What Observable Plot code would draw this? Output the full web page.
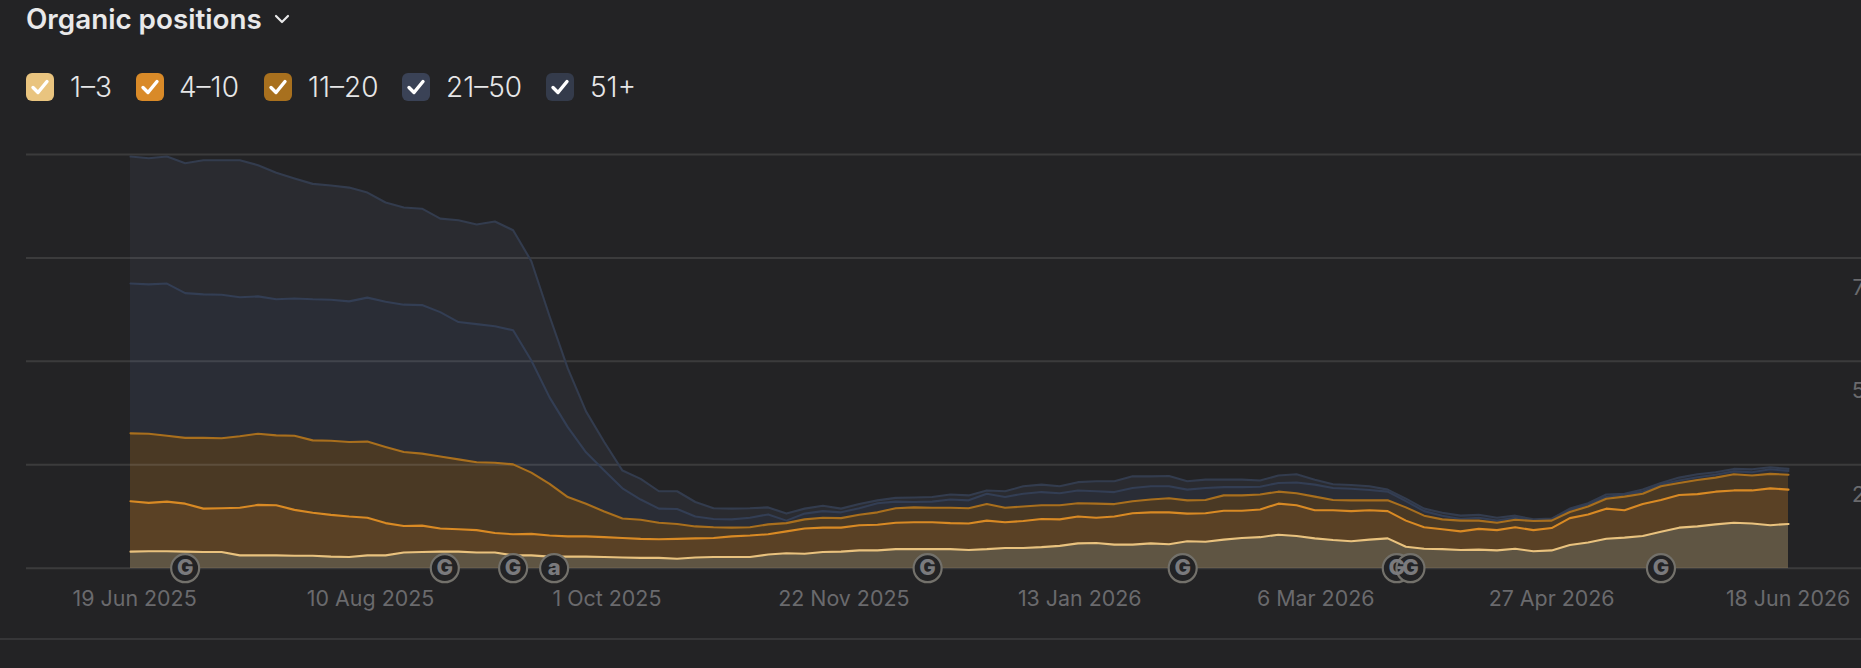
<!DOCTYPE html>
<html><head><meta charset="utf-8">
<script src="https://cdn.jsdelivr.net/npm/d3@7"></script>
<script src="https://cdn.jsdelivr.net/npm/@observablehq/plot@0.6"></script>
<style>
html,body{margin:0;padding:0;width:1861px;height:668px;overflow:hidden;background:#232325;font-family:Inter,sans-serif;}
#title{position:absolute;left:26px;top:3px;font-size:27.8px;font-weight:600;color:#e9e9ea;line-height:32px;white-space:nowrap;}
#chev{position:absolute;left:273px;top:13px;}
.box{position:absolute;top:73px;width:28px;height:28px;border-radius:6px;}
.box svg{position:absolute;left:3px;top:3px;}
.lab{position:absolute;top:70px;font-size:28px;line-height:34px;color:#e6e6e7;font-weight:300;white-space:nowrap;}
#rule{position:absolute;left:0;top:638px;width:1861px;height:2px;background:#363638;}
#chart{position:absolute;left:0;top:120px;}
</style></head><body>
<div id="title">Organic positions</div>
<svg id="chev" width="18" height="12" viewBox="0 0 18 12"><path d="M3 3 L9 9 L15 3" fill="none" stroke="#e9e9ea" stroke-width="2.2" stroke-linecap="round" stroke-linejoin="round"/></svg>
<div id="legend"></div>
<div id="chart"></div>
<div id="rule"></div>
<script>
const legendNames = ["1–3","4–10","11–20","21–50","51+"];
const legendColors = ["#e9c47f","#d98a28","#a8701e","#3a4256","#343b4b"];
const legendBoxX = [26,136,264,402,546];
const legendTextX = [70,179,308,446,590];

// cumulative organic positions, one reading every 4 days from 19 Jun 2025
const upTo3 = [4.0,4.1,4.1,4.0,3.9,3.9,3.1,3.1,3.1,3.0,3.0,2.8,2.7,3.1,3.1,3.8,3.9,4.0,4.0,3.8,3.8,3.1,3.1,2.8,2.8,2.8,2.7,2.6,2.5,2.5,2.3,2.6,2.7,2.7,2.7,3.3,3.6,3.5,3.9,4.0,4.3,4.3,4.6,4.6,4.6,4.6,4.4,4.6,4.9,4.9,5.1,5.4,6.0,6.1,5.7,5.7,6.0,5.8,6.5,6.4,6.9,7.3,7.5,8.1,7.8,7.2,6.8,6.5,6.9,7.2,5.2,4.7,4.6,4.4,4.5,4.3,4.7,4.1,4.3,5.6,6.2,7.1,7.4,7.8,8.8,9.8,10.1,10.6,11.0,10.8,10.4,10.7];
const upTo10 = [16.2,15.8,16.1,15.6,14.4,14.5,14.6,15.3,15.2,14.1,13.4,12.9,12.5,12.2,10.9,10.2,10.3,9.6,9.4,9.2,8.5,8.2,8.3,7.9,7.7,7.7,7.5,7.3,7.1,7.0,7.1,7.2,7.3,7.7,7.9,8.2,8.9,9.6,9.8,9.8,10.4,10.5,11.0,11.1,11.1,10.9,10.8,11.5,11.1,11.4,11.9,11.8,12.5,12.2,12.5,13.3,13.5,13.5,13.2,13.3,13.9,13.9,14.2,15.6,15.2,14.0,14.0,13.8,14.0,13.8,11.5,9.9,9.4,8.9,9.5,9.2,9.9,9.2,9.7,12.1,13.0,14.4,14.0,15.5,16.5,17.7,17.9,18.5,18.8,18.8,19.3,19.0];
const upTo20 = [32.6,32.5,32.0,31.5,31.5,31.4,31.9,32.5,32.1,32.0,30.9,30.8,30.5,30.6,29.3,28.1,27.7,27.0,26.3,25.6,25.5,25.1,23.1,20.4,17.2,15.6,13.7,12.0,11.7,11.0,10.7,10.1,9.9,9.8,9.9,10.6,10.9,11.8,12.2,12.1,12.9,13.5,14.5,14.7,14.6,14.6,14.5,15.5,14.6,14.9,15.2,15.2,15.7,15.6,15.5,16.2,16.6,16.9,16.4,16.5,17.6,17.6,17.8,18.5,18.1,17.3,16.5,16.4,16.4,16.4,14.7,12.7,11.8,11.5,11.5,11.0,11.7,11.4,11.5,13.6,14.9,16.8,17.3,18.0,19.8,20.6,21.3,21.9,22.7,22.4,22.8,22.6];
const upTo50 = [68.8,68.6,68.8,66.5,66.2,66.1,65.5,65.7,65.0,65.2,65.0,64.9,64.5,65.4,64.4,63.7,63.6,61.9,59.5,59.0,58.5,57.5,50.2,41.3,34.1,28.0,23.6,19.3,16.6,14.4,14.3,12.5,11.9,11.8,12.2,13.0,11.5,13.2,13.8,13.5,14.5,15.7,16.1,16.0,16.1,16.6,16.4,18.0,17.2,18.0,18.4,18.1,18.8,18.6,18.4,19.4,19.8,19.8,19.0,19.4,19.6,19.6,19.7,20.6,20.7,20.2,19.4,19.2,18.9,18.5,16.2,13.8,12.7,11.9,12.2,11.5,12.2,11.5,11.7,14.1,15.4,17.2,17.8,18.5,20.2,21.2,22.0,22.6,23.4,23.2,23.9,23.5];
const upToAll = [99.5,99.1,99.5,97.9,98.6,98.6,98.6,97.4,95.6,94.2,92.9,92.5,92.0,90.8,88.4,87.2,86.9,84.5,84.1,83.1,83.8,81.7,74.2,60.9,48.3,37.9,30.5,23.6,21.6,18.6,18.6,16.0,14.5,14.4,14.5,14.7,13.2,14.4,15.1,14.4,15.5,16.4,17.0,17.1,17.2,17.8,17.6,18.8,18.6,19.8,20.2,19.8,20.8,21.0,21.0,22.2,22.2,22.3,21.0,21.4,21.4,21.4,21.2,22.4,22.7,21.4,20.3,20.1,19.8,19.0,16.8,14.4,13.4,12.7,12.9,12.2,12.7,11.8,12.0,14.4,15.7,17.8,18.0,19.0,20.6,21.9,22.7,23.2,24.0,23.9,24.4,24.0];

const gridValues = [0,25,50,75,100];
const yTickValues = [25,50,75];
const yTickLabels = {25:"2",50:"5",75:"7"};
const xLabels = ["19 Jun 2025","10 Aug 2025","1 Oct 2025","22 Nov 2025","13 Jan 2026","6 Mar 2026","27 Apr 2026","18 Jun 2026"];
const xLabelDays = [0.9,52.7,104.6,156.6,208.4,260.2,312,363.9];
const eventDays = [12,69,84,93,175,231,278,281,336];
const eventMarks = ["G","G","G","a","G","G","G","G","G"];

const bandFills = ["#2a2b30","#2a2d36","#4a3924","#5a4125","#5f5543"];
const lineColors = ["#333c4e","#333e54","#a96f1d","#d98a24","#e9c27e"];
const boundaries = [upToAll,upTo50,upTo20,upTo10,upTo3];

const start = new Date(Date.UTC(2025,5,19));
const dayToDate = d => new Date(+start + d*864e5);
const dates = upTo3.map((_,i)=>dayToDate(i*4));

// legend
const legend = document.getElementById("legend");
legendNames.forEach((n,i)=>{
  const b=document.createElement("div");b.className="box";b.style.left=legendBoxX[i]+"px";b.style.background=legendColors[i];
  b.innerHTML='<svg width="22" height="22" viewBox="0 0 22 22"><path d="M4 11.5 L9 16.5 L18 5.5" fill="none" stroke="#fff" stroke-width="3.4" stroke-linecap="round" stroke-linejoin="round"/></svg>';
  legend.appendChild(b);
  const t=document.createElement("div");t.className="lab";t.style.left=legendTextX[i]+"px";t.textContent=n;legend.appendChild(t);
});

const rows = dates.map((d,i)=>({d,i}));
const marks = [];
boundaries.forEach((b,k)=>{
  marks.push(Plot.areaY(rows,{x:"d",y1:0,y2:r=>b[r.i],fill:bandFills[k]}));
});
marks.push(Plot.ruleY(gridValues,{stroke:"#ffffff",strokeOpacity:0.11,strokeWidth:2,insetLeft:-104,insetRight:-73}));
boundaries.forEach((b,k)=>{
  marks.push(Plot.lineY(rows,{x:"d",y:r=>b[r.i],stroke:lineColors[k],strokeWidth:2.1}));
});
marks.push(Plot.axisY({anchor:"right",ticks:yTickValues,tickSize:0,tickPadding:0,label:null,
  tickFormat:v=>yTickLabels[v],fontSize:22,fill:"#6a6a6d",dx:63,dy:30,textAnchor:"start"}));
const xLabelRows = xLabels.map((t,i)=>({t,x:dayToDate(xLabelDays[i])}));
marks.push(Plot.text(xLabelRows,{x:"x",y:0,text:"t",dy:31,fontSize:21.4,fill:"#6a6a6d",textAnchor:"middle"}));
const evRows = eventDays.map((d,i)=>({x:dayToDate(d),m:eventMarks[i]}));
marks.push(Plot.dot(evRows,{x:"x",y:0,r:14,fill:"#232325",stroke:"#73716b",strokeWidth:2.2}));
marks.push(Plot.text(evRows,{x:"x",y:0,text:"m",fontSize:22,fontWeight:800,fill:"#7a7a7d"}));

const plot = Plot.plot({
  width:1861,height:548,marginLeft:130,marginRight:73,marginTop:34,marginBottom:100.3,
  style:{background:"transparent",fontFamily:"Inter,sans-serif",overflow:"visible"},
  x:{type:"utc",domain:[dates[0],dates[dates.length-1]],axis:null},
  y:{domain:[0,100],axis:null},
  marks
});
document.getElementById("chart").appendChild(plot);
</script>
</body></html>
